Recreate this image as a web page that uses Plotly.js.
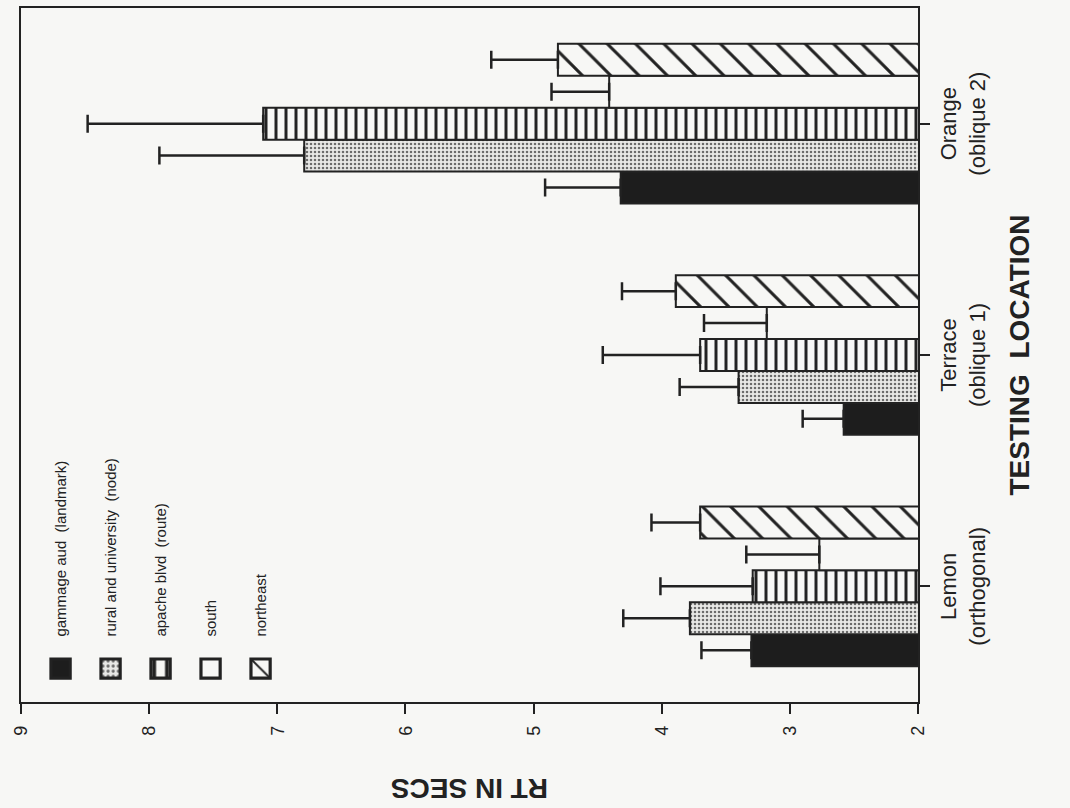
<!DOCTYPE html>
<html><head><meta charset="utf-8">
<script src="https://cdn.plot.ly/plotly-3.0.1.min.js"></script>
<style>
html,body{margin:0;padding:0;width:1070px;height:808px;overflow:hidden;background:#f7f7f5;}
#chart{position:absolute;left:0;top:0;width:808px;height:1070px;transform-origin:0 0;transform:translate(0px,808px) rotate(-90deg);}
</style></head><body><div id="chart"></div>
<script>
// Data
const locations = ['Lemon<br>(orthogonal)', 'Terrace<br>(oblique 1)', 'Orange<br>(oblique 2)'];
const seriesNames = ['gammage aud\u00a0 (landmark)', 'rural and university\u00a0 (node)', 'apache blvd\u00a0 (route)', 'south', 'northeast'];
const gammage = [3.30, 2.58, 4.32];
const gammageErr = [0.39, 0.32, 0.59];
const rural = [3.78, 3.40, 6.79];
const ruralErr = [0.52, 0.46, 1.13];
const apache = [3.29, 3.70, 7.11];
const apacheErr = [0.72, 0.76, 1.37];
const south = [2.77, 3.18, 4.41];
const southErr = [0.57, 0.49, 0.45];
const northeast = [3.70, 3.89, 4.81];
const northeastErr = [0.38, 0.42, 0.52];
const yTicks = [2, 3, 4, 5, 6, 7, 8, 9];
const xTitle = 'TESTING\u00a0 LOCATION';
const yTitle = 'RT IN SECS';

const ink = '#222';
const paper = '#f7f7f5';
const zeros = [0, 0, 0];

function makeBar(name, vals, errs, marker, idx) {
  return {
    type: 'bar', name: name, x: locations, y: vals,
    legendgroup: 'g' + idx,
    marker: Object.assign({line: {color: ink, width: 2}}, marker),
    error_y: {type: 'data', symmetric: false, array: errs, arrayminus: zeros,
              color: ink, thickness: 2.5, width: 9},
    hoverinfo: 'skip'
  };
}

const traces = [
  makeBar(seriesNames[0], gammage, gammageErr, {color: '#1d1d1d'}, 0),
  makeBar(seriesNames[1], rural, ruralErr, {color: '#dcdcdc',
    pattern: {shape: '.', fgcolor: '#6a6a6a', bgcolor: '#e8e8e6', size: 4, solidity: 0.3}}, 1),
  makeBar(seriesNames[2], apache, apacheErr, {color: paper,
    pattern: {shape: '-', fgcolor: ink, bgcolor: paper, size: 10, solidity: 0.3}}, 2),
  makeBar(seriesNames[3], south, southErr, {color: paper}, 3),
  makeBar(seriesNames[4], northeast, northeastErr, {color: paper,
    pattern: {shape: '/', fgcolor: ink, bgcolor: paper, size: 20, solidity: 0.15}}, 4)
];

const layout = {
  width: 808, height: 1070,
  margin: {l: 106, r: 8, t: 21, b: 152},
  paper_bgcolor: paper, plot_bgcolor: paper,
  font: {family: '"Liberation Sans", Arial, Helvetica, sans-serif', color: ink},
  barmode: 'group', bargap: 0.31, bargroupgap: 0,
  showlegend: true,
  legend: {x: 0.002, y: 0.974, xanchor: 'left', yanchor: 'top', bgcolor: 'rgba(0,0,0,0)',
           font: {size: 15}, itemwidth: 54, tracegroupgap: 27.5, traceorder: 'grouped'},
  xaxis: {type: 'category', range: [-0.5, 2.5], showline: true, mirror: true,
          linewidth: 2, linecolor: ink, ticks: 'outside', ticklen: 10, tickwidth: 2,
          tickcolor: ink, tickfont: {size: 22}, showgrid: false, zeroline: false,
          title: {text: xTitle, font: {size: 28, weight: 'bold'}, standoff: 20}},
  yaxis: {range: [2, 9], tickvals: yTicks, ticktext: yTicks.map(String), showline: true, mirror: true,
          linewidth: 2, linecolor: ink, ticks: 'outside', ticklen: 10, tickwidth: 2,
          tickcolor: ink, tickfont: {size: 18}, ticklabelstandoff: 8, showgrid: false, zeroline: false,
          title: {text: yTitle, font: {size: 28, weight: 'bold'}, standoff: 35}}
};

Plotly.newPlot('chart', traces, layout, {staticPlot: true, displayModeBar: false}).then(function () {
  document.querySelectorAll('#chart .legendpoints path').forEach(function (p) {
    var t = p.getAttribute('transform') || '';
    p.setAttribute('transform', t + ' scale(1.6)');
  });
});
</script></body></html>
